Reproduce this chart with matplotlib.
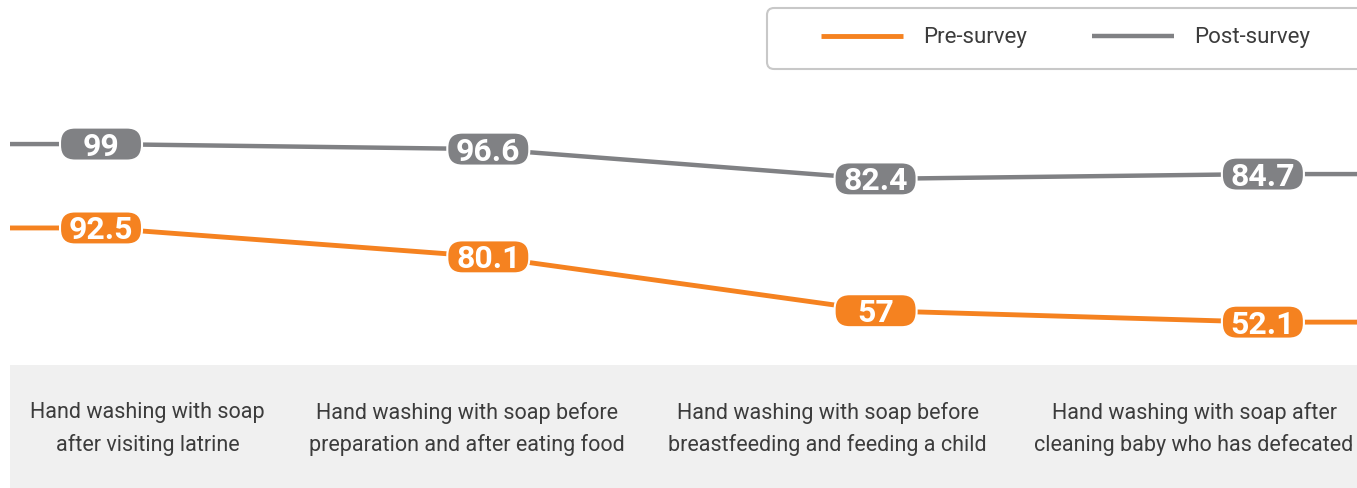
import matplotlib
matplotlib.use("Agg")
import matplotlib.pyplot as plt
import matplotlib.transforms as mtransforms
from matplotlib.patches import FancyBboxPatch
import numpy as np

# =========================
# DATA
# =========================

categories = [
    "Hand washing with soap\nafter visiting latrine",
    "Hand washing with soap before\npreparation and after eating food",
    "Hand washing with soap before\nbreastfeeding and feeding a child",
    "Hand washing with soap after\ncleaning baby who has defecated",
]
pre_survey = [92.5, 80.1, 57, 52.1]
post_survey = [99, 96.6, 82.4, 84.7]
series_names = ["Pre-survey", "Post-survey"]

# =========================
# STYLE
# =========================

ORANGE = "#F58220"
GRAY = "#808184"
BAND = "#F0F0F0"
TEXT = "#3C3C3C"
NARROW = ["Liberation Sans Narrow", "Roboto", "DejaVu Sans"]

W, H = 1357, 488


def fx(px):
    return px / W


def fy(py):
    return 1 - py / H


fig = plt.figure(figsize=(W / 100, H / 100), dpi=100, facecolor="white")

# =========================
# LINES
# =========================

ax_pre = fig.add_axes([fx(10), fy(360), fx(1347), (360 - 100) / H])
ax_post = ax_pre.twinx()

x = np.arange(len(categories))
xlim = (-0.235, 3.243)

for ax in (ax_pre, ax_post):
    ax.set_xlim(*xlim)
    ax.axis("off")

ax_pre.set_ylim(35.85, 147.4)
ax_post.set_ylim(-3.9, 120)

x_line = np.r_[xlim[0], x, xlim[1]]

(pre_line,) = ax_pre.plot(
    x_line, np.r_[pre_survey[0], pre_survey, pre_survey[-1]],
    color=ORANGE, lw=3.5, solid_capstyle="butt", zorder=2,
)
(post_line,) = ax_post.plot(
    x_line, np.r_[post_survey[0], post_survey, post_survey[-1]],
    color=GRAY, lw=3.2, solid_capstyle="butt", zorder=2,
)

# =========================
# VALUE PILLS
# =========================

cap_px = 23
box_w, box_h = 82, 33


def draw_pills(ax, values, color):
    for xi, v in zip(x, values):
        trans = mtransforms.offset_copy(ax.transData, fig, x=0, y=-cap_px / 2, units="dots")
        ax.text(
            xi, v, f"{v:g}", transform=trans, ha="center", va="baseline",
            fontsize=23, fontweight="bold", color="white",
            family=NARROW, zorder=5, clip_on=False,
        )
        box_trans = mtransforms.IdentityTransform() + mtransforms.ScaledTranslation(xi, v, ax.transData)
        pill = FancyBboxPatch(
            (-box_w / 2, -box_h / 2), box_w, box_h,
            boxstyle="round,pad=0,rounding_size=15",
            facecolor=color, edgecolor="white", lw=1.5,
            transform=box_trans, zorder=4, clip_on=False,
        )
        ax.add_artist(pill)


draw_pills(ax_pre, pre_survey, ORANGE)
draw_pills(ax_post, post_survey, GRAY)

# =========================
# CATEGORY BAND
# =========================

band = fig.add_axes([fx(10), 0, fx(1347), (H - 365) / H])
band.set_facecolor(BAND)
band.set_xticks([])
band.set_yticks([])
for s in band.spines.values():
    s.set_visible(False)

label_pos = [0.102, 0.339, 0.607, 0.879]
for xp, cat in zip(label_pos, categories):
    band.text(
        xp, 0.48, cat, ha="center", va="center", multialignment="center",
        fontsize=15.5, color=TEXT, family=NARROW,
        linespacing=1.6, transform=band.transAxes,
    )

# =========================
# LEGEND
# =========================

frame = FancyBboxPatch(
    (767, H - 69), 640, 61,
    boxstyle="round,pad=0,rounding_size=7",
    facecolor="white", edgecolor="#C8C8C8", lw=1.5,
    transform=mtransforms.IdentityTransform(), zorder=1,
)
fig.add_artist(frame)

fig.legend(
    handles=[pre_line, post_line], labels=series_names,
    loc="center left", bbox_to_anchor=(fx(821), fy(38)),
    ncol=2, frameon=False, borderpad=0, borderaxespad=0,
    handlelength=3.7, handletextpad=0.9, columnspacing=2.9,
    prop={"family": NARROW, "size": 16},
    labelcolor=TEXT,
)

plt.savefig("out.png", dpi=100, facecolor=fig.get_facecolor())
plt.close(fig)
